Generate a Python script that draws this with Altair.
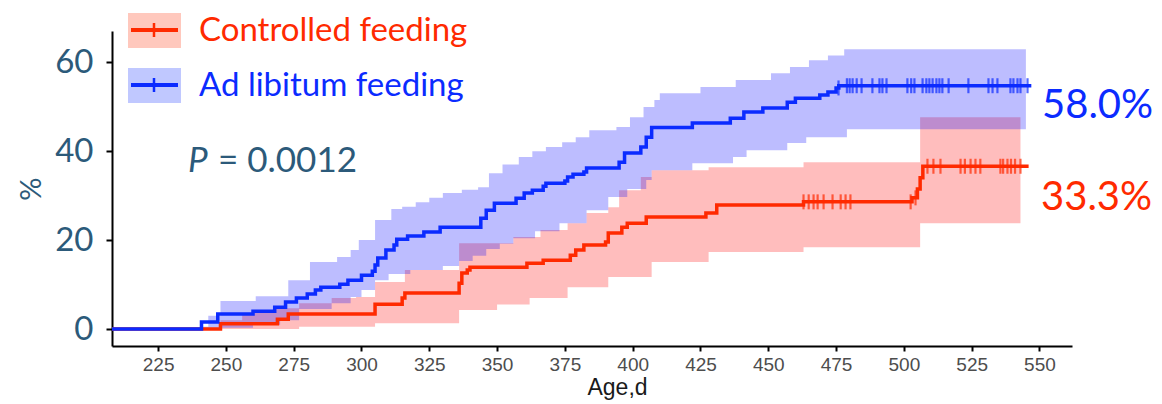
import altair as alt
import pandas as pd

# ---- data ----
blue_t = [208, 241, 247, 260, 268, 272, 276, 280, 283, 285, 292, 295, 300, 304, 305, 306, 309, 312, 313, 317,
          323, 329, 344, 346, 349, 357, 360, 363, 367, 368, 375, 376, 378, 382, 383, 395, 397, 403, 405, 407,
          422, 436, 441, 448, 457, 460, 469, 472, 475, 476, 547]
blue_v = [0, 1.6, 3.4, 4.0, 4.9, 6.1, 7.0, 7.9, 8.8, 9.4, 10.1, 11.0, 12.1, 13.0, 14.4, 16.0, 17.8, 18.9, 20.2, 20.9,
          21.8, 22.9, 24.9, 26.7, 28.3, 29.4, 30.6, 31.2, 32.1, 32.8, 33.3, 34.2, 34.8, 35.3, 36.2, 37.5, 39.6, 40.9, 43.1, 45.3,
          46.3, 47.4, 48.8, 49.7, 51.0, 51.9, 52.6, 53.3, 54.2, 54.7, 54.7]

red_t = [208, 242, 248, 269, 273, 305, 315, 316, 336, 337, 339, 340, 361, 367, 377, 379, 382, 390, 391, 396,
         398, 405, 427, 431, 463, 503, 505, 506, 507, 546]
red_v = [0, 0, 1.2, 2.2, 3.4, 5.6, 7.0, 8.1, 10.3, 12.6, 13.3, 13.9, 14.8, 15.5, 16.6, 17.8, 18.9, 19.6, 21.6, 22.9,
         23.8, 25.2, 26.1, 27.9, 28.6, 29.5, 31.5, 34.0, 36.6, 36.6]

blue_lo_t = [241, 247, 260, 270, 277, 289, 296, 300, 305, 310, 318, 330, 336, 341, 346, 351, 356, 364, 373, 383,
             391, 398, 405, 407, 422, 437, 442, 457, 464, 479, 545]
blue_lo_v = [0, 0.3, 1.0, 2.0, 4.5, 5.8, 7.2, 8.8, 11.0, 12.4, 13.3, 14.2, 15.3, 16.5, 18.0, 19.2, 20.4, 22.0, 23.8, 26.7,
             29.7, 31.5, 33.5, 35.7, 37.3, 38.7, 40.2, 41.8, 43.1, 44.9, 44.9]
blue_hi_t = [241, 243.5, 248, 261, 273, 281, 291, 296, 299, 305, 311, 315, 320, 325, 330, 337, 343, 347, 352, 358,
             363, 368, 374, 379, 384, 394, 399, 404, 408, 410, 425, 438, 451, 458, 465, 472, 478, 545]
blue_hi_v = [0.5, 3.0, 6.3, 7.4, 11.0, 15.1, 16.2, 17.8, 20.0, 24.5, 27.0, 27.5, 28.5, 29.5, 30.6, 31.3, 31.9, 35.0, 37.0, 38.7,
             40.0, 40.9, 42.0, 43.1, 44.7, 45.4, 47.6, 49.9, 51.5, 53.0, 54.4, 56.0, 57.5, 58.9, 60.4, 61.5, 62.9, 62.9]

red_lo_t = [248, 277, 305, 336, 350, 362, 376, 391, 407, 428, 463, 506, 543]
red_lo_v = [0, 0.5, 1.3, 4.3, 5.5, 7.0, 9.4, 11.7, 15.1, 17.3, 18.4, 23.8, 23.8]
red_hi_t = [248, 256, 268, 277, 289, 298, 305, 316, 336, 356, 366, 376, 383, 391, 395, 403, 407, 428, 463, 506, 543]
red_hi_v = [2.0, 3.6, 4.7, 5.8, 7.0, 7.2, 10.6, 13.3, 19.3, 20.7, 22.3, 23.8, 26.1, 27.4, 31.2, 34.2, 35.7, 36.4, 37.5, 47.6, 47.6]

blue_cens = [475.9, 479.0, 480.0, 481.1, 482.6, 484.4, 488.4, 491.0, 492.1, 493.6, 501.3, 502.7, 503.9, 506.9,
             508.3, 509.4, 510.6, 512.0, 513.1, 514.2, 516.5, 523.8, 531.2, 532.7, 534.5, 539.3, 540.4, 541.9, 543.0, 545.6]
red_cens = [463.0, 464.9, 466.7, 468.2, 470.4, 473.7, 476.7, 478.5, 480.3, 502.5, 504.3, 508.7, 510.9, 513.5,
            520.9, 522.5, 524.6, 526.4, 528.2, 535.6, 536.6, 538.2, 539.5, 541.0, 543.0]

x_ticks = [225, 250, 275, 300, 325, 350, 375, 400, 425, 450, 475, 500, 525, 550]
y_ticks = [0, 20, 40, 60]

BLUE = "#0b2bff"
RED = "#ff2a00"
SLATE = "#2c5a7a"


def step_at(ts, vs, t):
    val = vs[0]
    for ti, vi in zip(ts, vs):
        if ti <= t:
            val = vi
    return val


def band_df(lo_t, lo_v, hi_t, hi_v):
    times = sorted(set(lo_t) | set(hi_t))
    return pd.DataFrame({
        "t": times,
        "lo": [step_at(lo_t, lo_v, t) for t in times],
        "hi": [step_at(hi_t, hi_v, t) for t in times],
    })


blue_line = pd.DataFrame({"t": blue_t, "v": blue_v})
red_line = pd.DataFrame({"t": red_t, "v": red_v})
blue_band = band_df(blue_lo_t, blue_lo_v, blue_hi_t, blue_hi_v)
red_band = band_df(red_lo_t, red_lo_v, red_hi_t, red_hi_v)
blue_c = pd.DataFrame({"t": blue_cens, "v": [step_at(blue_t, blue_v, t) for t in blue_cens]})
red_c = pd.DataFrame({"t": red_cens, "v": [step_at(red_t, red_v, t) for t in red_cens]})

xs = alt.Scale(domain=[208, 562], nice=False, zero=False)
ys = alt.Scale(domain=[-3.8, 67], nice=False, zero=False)

x_axis = alt.Axis(values=x_ticks, grid=False, tickSize=5, tickWidth=2, domainWidth=2,
                  domainColor="black", tickColor="black", labelFont="Liberation Sans",
                  labelFontSize=19, labelColor="#4d4d4d", labelPadding=4, title="Age,d",
                  titleFont="Liberation Sans", titleFontSize=23, titleFontWeight="normal",
                  titleColor="#1a1a1a", titlePadding=2, titleX=505, labelFlush=False)
y_axis = alt.Axis(values=y_ticks, grid=False, tickSize=6, tickWidth=2, domainWidth=2,
                  domainColor="black", tickColor="black", labelFont="Lato", labelFontSize=33,
                  labelColor=SLATE, labelPadding=13, title="%", titleAngle=270, titleFont="Lato",
                  titleFontSize=29, titleFontWeight="normal", titleColor=SLATE, titlePadding=8)

X = alt.X("t:Q", scale=xs, axis=x_axis)
Y = alt.Y("v:Q", scale=ys, axis=y_axis)


def band(df, color):
    return alt.Chart(df).mark_area(interpolate="step-after", color=color, opacity=0.26).encode(
        x=alt.X("t:Q", scale=xs, axis=x_axis), y=alt.Y("lo:Q", scale=ys, axis=y_axis), y2="hi:Q")


def line(df, color):
    return alt.Chart(df).mark_line(interpolate="step-after", color=color, strokeWidth=3.5).encode(x=X, y=Y)


def cens(df, color):
    return alt.Chart(df).mark_tick(orient="vertical", color=color, thickness=2.2, size=15).encode(x=X, y=Y)


# legend (drawn by hand, matching the reference style)
def legend_item(color, y0, label):
    box = alt.Chart(pd.DataFrame({"a": [0]})).mark_rect(color=color, opacity=0.26).encode(
        x=alt.value(16), x2=alt.value(69), y=alt.value(y0 - 17), y2=alt.value(y0 + 18))
    ln = alt.Chart(pd.DataFrame({"a": [0]})).mark_rule(color=color, strokeWidth=4).encode(
        x=alt.value(19), x2=alt.value(66), y=alt.value(y0))
    tk = alt.Chart(pd.DataFrame({"a": [0]})).mark_rule(color=color, strokeWidth=2.5).encode(
        x=alt.value(42), y=alt.value(y0 - 7), y2=alt.value(y0 + 7))
    tx = alt.Chart(pd.DataFrame({"a": [0]})).mark_text(
        text=label, font="Lato", fontSize=33, color=color, align="left", baseline="middle").encode(
        x=alt.value(87), y=alt.value(y0 + 1))
    return box + ln + tk + tx


leg = legend_item(RED, -1, "Controlled feeding") + legend_item(BLUE, 54, "Ad libitum feeding")

one = pd.DataFrame({"a": [0]})
p_it = alt.Chart(one).mark_text(text="P", font="Lato", fontStyle="italic", fontSize=35, color=SLATE,
                                align="left", baseline="middle").encode(x=alt.value(76), y=alt.value(130))
p_val = alt.Chart(one).mark_text(text="= 0.0012", font="Lato", fontSize=35, color=SLATE,
                                 align="left", baseline="middle").encode(x=alt.value(106), y=alt.value(130))
a_blue = alt.Chart(one).mark_text(text="58.0%", font="Lato", fontSize=40, color=BLUE,
                                  align="left", baseline="middle").encode(x=alt.value(930), y=alt.value(75))
a_red = alt.Chart(one).mark_text(text="33.3%", font="Lato", fontSize=40, color=RED,
                                 align="left", baseline="middle").encode(x=alt.value(929), y=alt.value(167))

chart = alt.layer(
    band(red_band, "#ff0000"), band(blue_band, "#0000ff"),
    line(red_line, RED), cens(red_c, RED),
    line(blue_line, BLUE), cens(blue_c, BLUE),
    leg, p_it, p_val, a_blue, a_red,
).properties(
    width=960, height=315,
    autosize=alt.AutoSizeParams(type="none"),
    padding={"left": 104, "top": 23, "right": 82, "bottom": 54},
).configure_view(stroke=None)

chart.save("out.html", embed_options={"renderer": "svg", "actions": False})
